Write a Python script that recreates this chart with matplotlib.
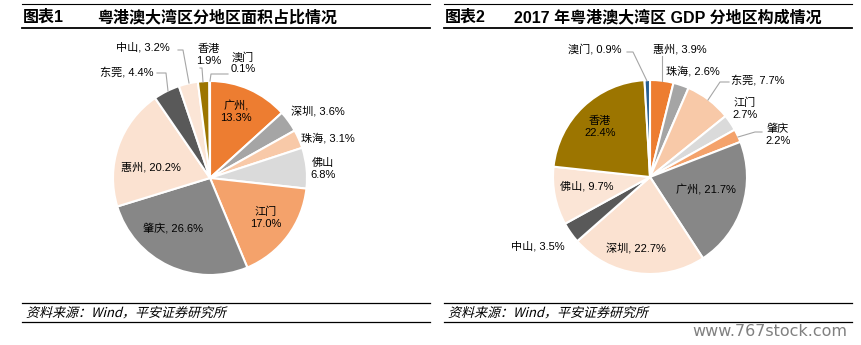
import matplotlib.pyplot as plt
from matplotlib.textpath import TextPath
from matplotlib.patches import PathPatch
from matplotlib.font_manager import FontProperties
import matplotlib.transforms as mtransforms

plt.rcParams['font.family'] = ['Liberation Sans', 'Noto Sans CJK SC', 'DejaVu Sans']

# 面积占比（%），从正上方顺时针
area_names = ['广州', '深圳', '珠海', '佛山', '江门', '肇庆', '惠州', '东莞', '中山', '香港', '澳门']
area_vals = [13.3, 3.6, 3.1, 6.8, 17.0, 26.6, 20.2, 4.4, 3.2, 1.9, 0.1]

# 2017 年 GDP 占比（%）
gdp_names = ['惠州', '珠海', '东莞', '江门', '肇庆', '广州', '深圳', '中山', '佛山', '香港', '澳门']
gdp_vals = [3.9, 2.6, 7.7, 2.7, 2.2, 21.7, 22.7, 3.5, 9.7, 22.4, 0.9]

colors = ['#ED7D31', '#A5A5A5', '#F8C9A8', '#DADADA', '#F4A26B', '#878787',
          '#FBE2D1', '#595959', '#FBE5D6', '#9C7500', '#255E91']

source = '资料来源：Wind，平安证券研究所'

W, H = 862, 345
fig = plt.figure(figsize=(W / 100, H / 100), dpi=100)
fig.patch.set_facecolor('white')


def draw_pie(vals, cx, cy, r):
    ax = fig.add_axes([(cx - r) / W, (H - cy - r) / H, 2 * r / W, 2 * r / H])
    ax.pie(vals, colors=colors, startangle=90, counterclock=False, radius=1,
           wedgeprops=dict(edgecolor='white', linewidth=1.5))
    ax.set_xlim(-1, 1)
    ax.set_ylim(-1, 1)
    ax.axis('off')
    return ax


ax1 = draw_pie(area_vals, 210, 178, 97)
ax2 = draw_pie(gdp_vals, 650, 177, 97)

# 文字、线条层（像素坐标）
ax = fig.add_axes([0, 0, 1, 1])
ax.set_xlim(0, W)
ax.set_ylim(H, 0)
ax.axis('off')
ax.patch.set_alpha(0)

# 斜体中文：用 TextPath 做倾斜
src_path = TextPath((0, 0), source, size=13, prop=FontProperties(family='Noto Sans CJK SC'))

for x0, x1 in [(22, 430), (444, 852)]:
    ax.plot([x0, x1], [4, 4], color='black', lw=0.8)
    ax.plot([x0, x1], [28, 28], color='black', lw=1.3)
    ax.plot([x0, x1], [303, 303], color='black', lw=0.9)
    ax.plot([x0, x1], [322, 322], color='black', lw=0.9)
    tr = mtransforms.Affine2D().skew_deg(14, 0).scale(1, -1).translate(x0 + 4, 317) + ax.transData
    ax.add_patch(PathPatch(src_path, transform=tr, facecolor='black', edgecolor='none'))

ax.text(23, 17, '图表1', fontsize=11.5, fontweight='bold', ha='left', va='center')
ax.text(97, 17, '粤港澳大湾区分地区面积占比情况', fontsize=11.5, fontweight='bold',
        ha='left', va='center')
ax.text(445, 17, '图表2', fontsize=11.5, fontweight='bold', ha='left', va='center')
ax.text(514, 17, '2017 年粤港澳大湾区 GDP 分地区构成情况', fontsize=11.5, fontweight='bold',
        ha='left', va='center')

ax.text(847, 336, 'www.767stock.com', fontsize=11.5, family='DejaVu Sans',
        color='#808080', ha='right', va='baseline')

fs = 8
lead = dict(color='#A6A6A6', lw=0.8)

# 左图标签
a = dict(zip(area_names, area_vals))
ax.text(236, 112, '广州,\n%.1f%%' % a['广州'], fontsize=fs, ha='center', va='center', linespacing=1.2)
ax.text(318, 111, '深圳, %.1f%%' % a['深圳'], fontsize=fs, ha='center', va='center')
ax.text(328, 138, '珠海, %.1f%%' % a['珠海'], fontsize=fs, ha='center', va='center')
ax.text(323, 169, '佛山\n%.1f%%' % a['佛山'], fontsize=fs, ha='center', va='center', linespacing=1.2)
ax.text(266, 218, '江门\n%.1f%%' % a['江门'], fontsize=fs, ha='center', va='center', linespacing=1.2)
ax.text(173, 228, '肇庆, %.1f%%' % a['肇庆'], fontsize=fs, ha='center', va='center')
ax.text(151, 167, '惠州, %.1f%%' % a['惠州'], fontsize=fs, ha='center', va='center')
ax.text(127, 72, '东莞, %.1f%%' % a['东莞'], fontsize=fs, ha='center', va='center')
ax.text(143, 47, '中山, %.1f%%' % a['中山'], fontsize=fs, ha='center', va='center')
ax.text(209, 55, '香港\n%.1f%%' % a['香港'], fontsize=fs, ha='center', va='center', linespacing=1.2)
ax.text(243, 63, '澳门\n%.1f%%' % a['澳门'], fontsize=fs, ha='center', va='center', linespacing=1.2)
ax.plot([157, 166, 168], [73, 73, 91], **lead)
ax.plot([178, 183, 189], [50, 50, 83], **lead)
ax.plot([200, 202, 203], [68, 68, 82], **lead)
ax.plot([228, 211, 210], [74, 74, 81], **lead)

# 右图标签
g = dict(zip(gdp_names, gdp_vals))
ax.text(595, 49, '澳门, %.1f%%' % g['澳门'], fontsize=fs, ha='center', va='center')
ax.text(680, 49, '惠州, %.1f%%' % g['惠州'], fontsize=fs, ha='center', va='center')
ax.text(693, 71, '珠海, %.1f%%' % g['珠海'], fontsize=fs, ha='center', va='center')
ax.text(758, 80, '东莞, %.1f%%' % g['东莞'], fontsize=fs, ha='center', va='center')
ax.text(745, 109, '江门\n%.1f%%' % g['江门'], fontsize=fs, ha='center', va='center', linespacing=1.2)
ax.text(778, 135, '肇庆\n%.1f%%' % g['肇庆'], fontsize=fs, ha='center', va='center', linespacing=1.2)
ax.text(600, 127, '香港\n%.1f%%' % g['香港'], fontsize=fs, ha='center', va='center', linespacing=1.2)
ax.text(587, 186, '佛山, %.1f%%' % g['佛山'], fontsize=fs, ha='center', va='center')
ax.text(706, 190, '广州, %.1f%%' % g['广州'], fontsize=fs, ha='center', va='center')
ax.text(538, 246, '中山, %.1f%%' % g['中山'], fontsize=fs, ha='center', va='center')
ax.text(636, 248, '深圳, %.1f%%' % g['深圳'], fontsize=fs, ha='center', va='center')
ax.plot([627, 633, 647], [52, 52, 81], **lead)
ax.plot([662, 662], [56, 81], **lead)
ax.plot([729, 720, 708], [82, 82, 100], **lead)
ax.plot([762, 755, 738], [132, 132, 137], **lead)

fig.savefig('out.png', dpi=100, facecolor='white')
